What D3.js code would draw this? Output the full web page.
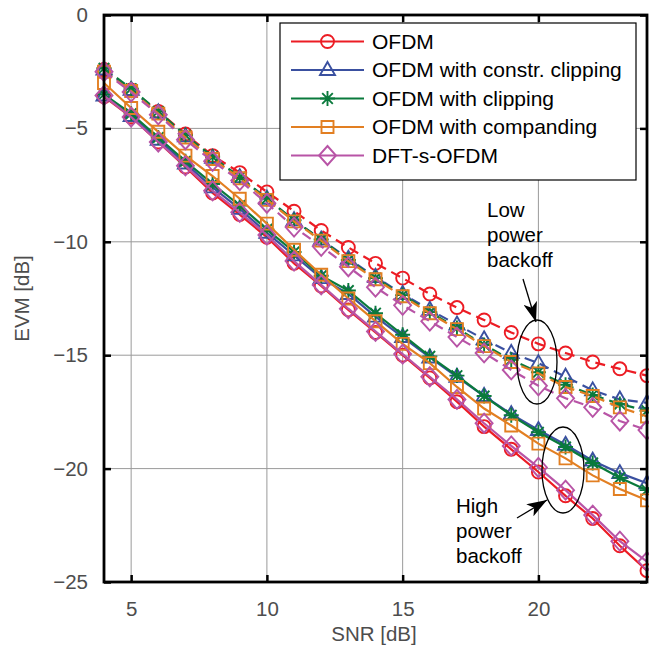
<!DOCTYPE html>
<html lang='en'>
<head>
	<meta charset='UTF-8'>
	<title>EVM vs SNR</title>
	<style>
		body { margin: 0; background: #fff; }
		text { font-family: 'Liberation Sans', Arial, Helvetica, sans-serif; }
	</style>
</head>
<body>

<svg></svg>

<script src='https://d3js.org/d3.v7.min.js'></script>
<script>
const snr = [4, 5, 6, 7, 8, 9, 10, 11, 12, 13, 14, 15, 16, 17, 18, 19, 20, 21, 22, 23, 24]

// low power backoff (dashed)
const lowOfdm = [-2.4, -3.3, -4.25, -5.25, -6.2, -6.95, -7.8, -8.65, -9.5, -10.25, -10.95, -11.6, -12.3, -12.9, -13.45, -14.0, -14.5, -14.9, -15.3, -15.6, -15.9]
const lowConstr = [-2.4, -3.3, -4.3, -5.35, -6.3, -7.15, -8.1, -9.05, -9.9, -10.75, -11.55, -12.3, -13.0, -13.65, -14.3, -14.9, -15.35, -15.95, -16.55, -16.95, -17.1]
const lowClip = [-2.35, -3.25, -4.25, -5.3, -6.25, -7.15, -8.1, -9.05, -9.9, -10.8, -11.6, -12.35, -13.1, -13.8, -14.55, -15.2, -15.75, -16.3, -16.75, -17.15, -17.45]
const lowCompand = [-2.5, -3.35, -4.35, -5.4, -6.35, -7.2, -8.15, -9.1, -9.95, -10.85, -11.65, -12.4, -13.15, -13.85, -14.6, -15.3, -15.8, -16.4, -16.8, -17.3, -17.7]
const lowDft = [-2.5, -3.4, -4.4, -5.5, -6.45, -7.3, -8.3, -9.35, -10.2, -11.1, -12.0, -12.8, -13.5, -14.2, -14.9, -15.65, -16.35, -16.9, -17.3, -17.9, -18.3]

// high power backoff (solid)
const highOfdm = [-3.6, -4.5, -5.6, -6.7, -7.85, -8.8, -9.8, -10.95, -11.95, -13.0, -14.0, -15.0, -16.0, -17.05, -18.15, -19.15, -20.15, -21.2, -22.2, -23.4, -24.5]
const highConstr = [-3.55, -4.45, -5.5, -6.55, -7.6, -8.55, -9.6, -10.6, -11.6, -12.3, -13.3, -14.2, -15.1, -15.95, -16.8, -17.6, -18.3, -18.95, -19.65, -20.2, -20.65]
const highClip = [-3.5, -4.35, -5.4, -6.45, -7.45, -8.4, -9.45, -10.45, -11.5, -12.15, -13.15, -14.1, -15.05, -15.9, -16.8, -17.65, -18.4, -19.05, -19.75, -20.4, -20.95]
const highCompand = [-3.0, -4.1, -5.15, -6.2, -7.1, -8.1, -9.2, -10.35, -11.45, -12.5, -13.5, -14.5, -15.35, -16.4, -17.35, -18.1, -18.9, -19.55, -20.3, -20.9, -21.4]
const highDft = [-3.55, -4.5, -5.6, -6.65, -7.75, -8.7, -9.7, -10.85, -11.9, -12.95, -13.95, -14.95, -15.95, -16.95, -18.0, -19.0, -19.95, -20.95, -22.05, -23.2, -24.1]

const names = ['OFDM', 'OFDM with constr. clipping', 'OFDM with clipping', 'OFDM with companding', 'DFT-s-OFDM']
const colors = ['#ec1c24', '#3a50a0', '#0a7a3c', '#e27f22', '#b854a6']
const shapes = ['circle', 'triangle', 'asterisk', 'square', 'diamond']
const lowSeries = [lowOfdm, lowConstr, lowClip, lowCompand, lowDft]
const highSeries = [highOfdm, highConstr, highClip, highCompand, highDft]

const xTicks = [5, 10, 15, 20]
const yTicks = [0, -5, -10, -15, -20, -25]

const width = 649
const height = 652
const margin = {top: 15, right: 2, bottom: 70, left: 104}
const fontSize = '20.5px'

const svg = d3.select('svg')
	.attr('width', width)
	.attr('height', height)

const x = d3.scaleLinear().domain([4, 24]).range([margin.left, width - margin.right])
const y = d3.scaleLinear().domain([-25, 0]).range([height - margin.bottom, margin.top])

function marker(shape) {
	switch (shape) {
		case 'circle': return 'M-6.5,0A6.5,6.5 0 1,0 6.5,0A6.5,6.5 0 1,0 -6.5,0Z'
		case 'triangle': return 'M0,-8L7.5,5L-7.5,5Z'
		case 'asterisk': return 'M-7.5,0L7.5,0M0,-7.5L0,7.5M-5.3,-5.3L5.3,5.3M-5.3,5.3L5.3,-5.3'
		case 'square': return 'M-6,-6L6,-6L6,6L-6,6Z'
		case 'diamond': return 'M0,-9.5L8.5,0L0,9.5L-8.5,0Z'
	}
}

// grid
svg.append('g')
	.selectAll('line')
	.data(xTicks)
	.join('line')
	.attr('x1', d => x(d)).attr('x2', d => x(d))
	.attr('y1', y(0)).attr('y2', y(-25))
	.attr('stroke', '#9a9a9a').attr('stroke-width', 1)
svg.append('g')
	.selectAll('line')
	.data(yTicks.slice(1, -1))
	.join('line')
	.attr('x1', x(4)).attr('x2', x(24))
	.attr('y1', d => y(d)).attr('y2', d => y(d))
	.attr('stroke', '#9a9a9a').attr('stroke-width', 1)

const line = d3.line()
	.x((d, i) => x(snr[i]))
	.y(d => y(d))

const plot = svg.append('g')

function drawGroup(series, dashed) {
	series.forEach((vals, k) => {
		const g = plot.append('g')
		g.append('path')
			.attr('d', line(vals))
			.attr('fill', 'none')
			.attr('stroke', colors[k])
			.attr('stroke-width', 2.2)
			.attr('stroke-dasharray', dashed ? '10,6' : null)
		g.selectAll('path.m')
			.data(vals)
			.join('path')
			.attr('class', 'm')
			.attr('transform', (d, i) => `translate(${x(snr[i])},${y(d)})`)
			.attr('d', marker(shapes[k]))
			.attr('fill', 'none')
			.attr('stroke', colors[k])
			.attr('stroke-width', 1.9)
	})
}
drawGroup(highSeries, false)
drawGroup(lowSeries, true)

// axes box + ticks
const axX = svg.append('g').attr('transform', `translate(0,${y(-25)})`)
	.call(d3.axisBottom(x).tickValues(xTicks).tickSize(-7).tickPadding(19).tickFormat(d3.format('d')))
const axXTop = svg.append('g').attr('transform', `translate(0,${y(0)})`)
	.call(d3.axisTop(x).tickValues(xTicks).tickSize(-7).tickFormat(''))
const axY = svg.append('g').attr('transform', `translate(${x(4)},0)`)
	.call(d3.axisLeft(y).tickValues(yTicks).tickSize(-7).tickPadding(16).tickFormat(d => d === 0 ? '0' : '\u2212' + Math.abs(d)))
const axYRight = svg.append('g').attr('transform', `translate(${x(24)},0)`)
	.call(d3.axisRight(y).tickValues(yTicks).tickSize(-7).tickFormat(''))

;[axX, axXTop, axY, axYRight].forEach(a => {
	a.select('.domain').remove()
	a.selectAll('.tick line').attr('stroke', '#000').attr('stroke-width', 2.5)
	a.selectAll('.tick text').attr('fill', '#4d4d4d').style('font-size', fontSize)
		.style('font-family', "'Liberation Sans', Arial, sans-serif")
})

svg.append('rect')
	.attr('x', x(4)).attr('y', y(0))
	.attr('width', x(24) - x(4)).attr('height', y(-25) - y(0))
	.attr('fill', 'none').attr('stroke', '#000').attr('stroke-width', 2.8)

svg.append('text')
	.attr('x', 374).attr('y', 641)
	.attr('text-anchor', 'middle')
	.attr('fill', '#4d4d4d').style('font-size', fontSize)
	.text('SNR [dB]')
svg.append('text')
	.attr('transform', `translate(29,${(y(0) + y(-25)) / 2}) rotate(-90)`)
	.attr('text-anchor', 'middle')
	.attr('fill', '#4d4d4d').style('font-size', fontSize)
	.text('EVM [dB]')

// legend
const legend = svg.append('g')
legend.append('rect')
	.attr('x', 280).attr('y', 23).attr('width', 356).attr('height', 157)
	.attr('fill', '#fff').attr('stroke', '#000').attr('stroke-width', 1.2)
const item = legend.selectAll('g.item')
	.data(names)
	.join('g')
	.attr('class', 'item')
	.attr('transform', (d, i) => `translate(0,${41.5 + i * 28.5})`)
item.append('line')
	.attr('x1', 291).attr('x2', 364)
	.attr('stroke', (d, i) => colors[i]).attr('stroke-width', 2.2)
item.append('path')
	.attr('transform', 'translate(327.5,0)')
	.attr('d', (d, i) => marker(shapes[i]))
	.attr('fill', 'none')
	.attr('stroke', (d, i) => colors[i]).attr('stroke-width', 1.9)
item.append('text')
	.attr('x', 372).attr('y', 7)
	.style('font-size', '21px')
	.attr('fill', '#000')
	.text(d => d)

// annotations
svg.append('defs').append('marker')
	.attr('id', 'head')
	.attr('viewBox', '0 0 20 14')
	.attr('refX', 20).attr('refY', 7)
	.attr('markerWidth', 20).attr('markerHeight', 14)
	.attr('markerUnits', 'userSpaceOnUse')
	.attr('orient', 'auto')
	.append('path')
	.attr('d', 'M0,0L20,7L0,14L5,7Z')
	.attr('fill', '#000')

function note(lines, tx, ty, from, to, ell) {
	const t = svg.append('text').attr('x', tx).attr('y', ty).style('font-size', fontSize).attr('fill', '#000')
	lines.forEach((s, i) => t.append('tspan').attr('x', tx).attr('dy', i ? 25 : 0).text(s))
	svg.append('line')
		.attr('x1', from[0]).attr('y1', from[1]).attr('x2', to[0]).attr('y2', to[1])
		.attr('stroke', '#000').attr('stroke-width', 1.3)
		.attr('marker-end', 'url(#head)')
	svg.append('ellipse')
		.attr('cx', ell[0]).attr('cy', ell[1]).attr('rx', ell[2]).attr('ry', ell[3])
		.attr('fill', 'none').attr('stroke', '#000').attr('stroke-width', 1.3)
}
note(['Low', 'power', 'backoff'], 487, 217, [523, 279], [536, 322], [537, 362, 20, 42])
note(['High', 'power', 'backoff'], 456, 513, [517, 518], [547, 500], [563, 470, 21, 43])
</script>
</body>
</html>
